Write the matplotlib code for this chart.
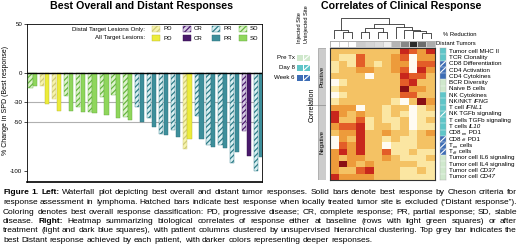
import numpy as np
import matplotlib
matplotlib.use('Agg')
import matplotlib.pyplot as plt
from matplotlib.patches import Rectangle
from matplotlib.colors import LinearSegmentedColormap

plt.rcParams['font.family'] = 'Liberation Sans'
plt.rcParams['hatch.linewidth'] = 0.9

# ---- waterfall data (% change in SPD), one pair per patient
response = ['SD', 'PD', 'PD', 'SD', 'SD', 'SD', 'SD', 'SD', 'SD', 'PR',
            'PR', 'PR', 'PR', 'PD', 'PR', 'PR', 'PR', 'PR', 'CR', 'PR']
distal = [-15, -13.5, -27, -24, -35, -39.5, -25, -22.5, -45, -35,
          -46, -62.5, -58, -77.5, -44.5, -74, -74, -92, -59, -100]
overall = [-13.5, -32, -38.5, -38.5, -39.5, -40.5, -43.5, -46, -48.5, -50,
           -55, -63.5, -65, -67.5, -68, -75.5, -76.5, -81, -85, -86]
yticks = [50, 0, -30, -50, -100]

# ---- heatmap data
# row labels as pieces: n = normal, i = italic, s = subscript
row_labels = [
    [('Tumor cell MHC II', 'n')], [('TCR Clonality', 'n')], [('CD8 Differentiation', 'n')],
    [('CD4 Activation', 'n')], [('CD4 Cytokines', 'n')], [('BCR Diversity', 'n')],
    [('Naive B cells', 'n')], [('NK Cytokines', 'n')],
    [('NK/NKT ', 'n'), ('IFNG', 'i')], [('T cell ', 'n'), ('IFNL1', 'i')],
    [('NK TGFb signaling', 'n')], [('T cells TGFb signaling', 'n')],
    [('T cells ', 'n'), ('IL10', 'i')],
    [('CD8', 'n'), ('em', 's'), (' PD1', 'n')], [('CD8', 'n'), ('eff', 's'), (' PD1', 'n')],
    [('T', 'n'), ('em', 's'), (' cells', 'n')], [('T', 'n'), ('eff', 's'), (' cells', 'n')],
    [('Tumor cell IL6 signaling', 'n')], [('Tumor cell IL4 signaling', 'n')],
    [('Tumor cell ', 'n'), ('CD37', 'i')], [('Tumor cell ', 'n'), ('CD47', 'i')],
]
row_time = ['d8', 'd8', 'w6', 'w6', 'w6', 'pre', 'pre', 'd8', 'd8', 'd8', 'd8',
            'd8', 'd8', 'd8', 'w6', 'w6', 'w6', 'pre', 'pre', 'pre', 'pre']
row_uninj = [0, 0, 1, 1, 0, 0, 0, 0, 0, 0, 1, 0, 0, 0, 1, 1, 1, 0, 0, 0, 0]
n_positive = 9
heat = np.array([
    [2, 2, 2, 2, 2, 2, 2, 2, 5, 4, 3, 5],
    [2, 1, 1, 4, 2, 2, 2, 3, 4, 0, 3, 3],
    [1, 2, 1, 4, 2, 1, 2, 3, 3, 0, 4, 4],
    [1, 2, 2, 3, 3, 2, 2, 3, 4, 0, 5, 3],
    [2, 2, 2, 2, 0, 2, 2, 2, 5, 4, 4, 2],
    [0, 1, 2, 2, 2, 2, 2, 2, 4, 5, 2, 2],
    [1, 2, 2, 2, 2, 2, 2, 2, 6, 3, 3, 2],
    [0, 1, 2, 2, 2, 2, 2, 2, 4, 4, 2, 2],
    [1, 2, 2, 2, 2, 2, 2, 1, 0, 2, 6, 3],
    [3, 3, 3, 0, 2, 2, 1, 2, 2, 0, 1, 2],
    [5, 3, 2, 3, 2, 2, 1, 2, 1, 0, 1, 1],
    [5, 2, 2, 4, 1, 2, 1, 1, 2, 0, 1, 2],
    [3, 4, 4, 5, 1, 2, 2, 1, 2, 0, 1, 1],
    [2, 3, 3, 5, 2, 2, 3, 2, 2, 1, 2, 3],
    [0, 3, 2, 5, 2, 2, 1, 2, 1, 1, 2, 2],
    [0, 4, 3, 5, 2, 2, 0, 1, 1, 1, 2, 2],
    [3, 5, 3, 5, 2, 2, 4, 1, 1, 2, 1, 1],
    [3, 2, 3, 3, 2, 2, 3, 2, 1, 1, 1, 2],
    [3, 6, 3, 2, 3, 2, 2, 2, 2, 2, 1, 1],
    [3, 2, 2, 4, 5, 2, 2, 2, 1, 1, 2, 1],
    [5, 3, 3, 3, 3, 2, 2, 2, 1, 1, 1, 1],
])
reduction = [0, 0, 0, 0.32, 0.28, 0.25, 0.14, 0.42, 0.58, 0.9, 0.68, 0.45]
# dendrogram merges: (left node, right node, height); leaves are 0..11
merges = [(1, 2, 0.35), (0, 12, 0.44), (3, 4, 0.35), (5, 6, 0.35), (14, 15, 0.54),
          (10, 11, 0.3), (9, 17, 0.38), (8, 18, 0.46), (7, 19, 0.56), (16, 20, 0.72),
          (13, 21, 1.0)]

caption = [
    [("Figure 1. Left:", True), ("Waterfall plot depicting best overall and distant tumor responses. Solid bars denote best response by Cheson criteria for", False)],
    [("response assessment in lymphoma. Hatched bars indicate best response when locally treated tumor site is excluded (\u201cDistant response\u201d).", False)],
    [("Coloring denotes best overall response classification: PD, progressive disease; CR, complete response; PR, partial response; SD, stable", False)],
    [("disease.", False), ("Right:", True), ("Heatmap summarizing biological correlates of response either at baseline (rows with light green squares) or after", False)],
    [("treatment (light and dark blue squares), with patient columns clustered by unsupervised hierarchical clustering. Top grey bar indicates the", False)],
    [("best Distant response achieved by each patient, with darker colors representing deeper responses.", False)],
]

solid = {'PD': '#ecec3a', 'CR': '#4a1a6c', 'PR': '#3e8f9b', 'SD': '#8fd65c'}
solid_edge = {'PD': '#b5b232', 'CR': '#2e0d47', 'PR': '#2b6f7a', 'SD': '#62a83c'}
light = {'PD': '#f7f4ad', 'CR': '#d8cce6', 'PR': '#d9f0f2', 'SD': '#def3cc'}
light_edge = {'PD': '#cfc978', 'CR': '#4a1a6c', 'PR': '#2f7c88', 'SD': '#66b640'}
time_col = {'pre': '#cfe8cc', 'd8': '#5fc5c8', 'w6': '#3d6db5'}

W, H = 520, 252
fig = plt.figure(figsize=(W / 100, H / 100), dpi=100)
renderer = fig.canvas.get_renderer()


def px_axes(x0, y0, x1, y1):
    return fig.add_axes([x0 / W, 1 - y1 / H, (x1 - x0) / W, (y1 - y0) / H])


def fx(x):
    return x / W


def fy(y):
    return 1 - y / H


def fig_rect(x0, y0, w, h, **kw):
    r = Rectangle((fx(x0), fy(y0 + h)), w / W, h / H, transform=fig.transFigure, **kw)
    fig.add_artist(r)
    return r


# ================= left: waterfall =================
ax = px_axes(27, 24, 262, 182)
x = np.arange(len(overall))
for i in x:
    c = response[i]
    ax.bar(i - 0.2, distal[i], 0.36, facecolor=light[c], edgecolor=light_edge[c],
           hatch='//////', lw=0.3, zorder=3)
    ax.bar(i + 0.2, overall[i], 0.36, facecolor=solid[c], edgecolor=solid_edge[c],
           lw=0.3, zorder=3)
for g in [-30, -50]:
    ax.axhline(g, color='#b0b0b0', lw=0.8, zorder=1)
ax.axhline(0, color='black', lw=1.0, zorder=4)
ax.set_xlim(-0.49, 19.3)
ax.set_ylim(-111.5, 50)
ax.set_xticks([])
ax.set_yticks(yticks)
ax.set_yticklabels([str(t) for t in yticks], fontsize=4.4)
ax.tick_params(axis='y', length=2, width=0.5, pad=1.5)
for s in ax.spines.values():
    s.set_linewidth(0.6)
ax.spines['bottom'].set_linewidth(1.2)
fig.text(fx(6), fy(100), '% Change in SPD (Best response)', fontsize=5, rotation=90,
         ha='center', va='center')
fig.text(fx(142), fy(6), 'Best Overall and Distant Responses', fontsize=7.7,
         fontweight='bold', ha='center', va='center')

# legend
fig.text(fx(145), fy(29), 'Distal Target Lesions Only:', fontsize=4.4, ha='right', va='center')
fig.text(fx(145), fy(38), 'All Target Lesions:', fontsize=4.4, ha='right', va='center')
leg_x = {'PD': 152, 'CR': 183, 'PR': 212, 'SD': 239}
for c, lx in leg_x.items():
    fig_rect(lx, 26.5, 8, 5, facecolor=light[c], edgecolor=light_edge[c], hatch='//////', lw=0.3)
    fig_rect(lx, 35.5, 8, 5, facecolor=solid[c], edgecolor=solid_edge[c], lw=0.3)
    fig.text(fx(lx + 11), fy(29), c, fontsize=4.4, va='center')
    fig.text(fx(lx + 11), fy(38), c, fontsize=4.4, va='center')

# ================= right: heatmap =================
fig.text(fx(401), fy(6), 'Correlates of Clinical Response', fontsize=7.7,
         fontweight='bold', ha='center', va='center')

cmap = LinearSegmentedColormap.from_list(
    'heat', ['#fffbf2', '#fbe6a2', '#f4c264', '#ee9c3c', '#e35d28', '#c9281d', '#8a0f14'])
axh = px_axes(330, 48, 435, 180)
axh.imshow(heat, cmap=cmap, vmin=0, vmax=6, aspect='auto', interpolation='nearest')
axh.set_xticks([])
axh.set_yticks([])
for s in axh.spines.values():
    s.set_linewidth(0.8)
    s.set_color('#333333')

# grey response bar
axg = px_axes(330, 41, 435, 47)
axg.pcolormesh(np.array([reduction]), cmap='Greys', vmin=0, vmax=1.05,
               edgecolors='#cfcfcf', linewidth=0.4)
axg.set_xticks([])
axg.set_yticks([])
for s in axg.spines.values():
    s.set_linewidth(0.4)
    s.set_color('#999999')
fig.text(fx(443), fy(35), '% Reduction', fontsize=4.2, va='center')
fig.text(fx(436.5), fy(43.5), 'Distant Tumors', fontsize=4.2, va='center')

# dendrogram
axd = px_axes(330, 18, 435, 39)
pos = {i: (float(i), 0.0) for i in range(len(reduction))}
for k, (a, b, h) in enumerate(merges):
    xa, ha = pos[a]
    xb, hb = pos[b]
    axd.plot([xa, xa, xb, xb], [ha, h, h, hb], color='#333333', lw=0.6)
    pos[len(reduction) + k] = ((xa + xb) / 2, h)
axd.set_xlim(-0.5, len(reduction) - 0.5)
axd.set_ylim(0, 1.02)
axd.axis('off')

# row annotation squares
axa = px_axes(440, 48, 446, 180)
rgb = np.array([matplotlib.colors.to_rgb(time_col[t]) for t in row_time])[:, None, :]
axa.imshow(rgb, aspect='auto', interpolation='nearest')
for i, u in enumerate(row_uninj):
    if u:
        axa.plot([-0.5, 0.5], [i + 0.45, i - 0.45], color='white', lw=0.8)
for i in range(len(row_time) - 1):
    axa.axhline(i + 0.5, color='white', lw=0.3)
axa.set_xlim(-0.5, 0.5)
axa.set_xticks([])
axa.set_yticks([])
for s in axa.spines.values():
    s.set_linewidth(0.3)
    s.set_color('#aaaaaa')

# row labels, drawn piece by piece (italic genes, small subscripts)
row_h = 132 / len(row_labels)
lab_fs = 4.5
for i, pieces in enumerate(row_labels):
    xc = 449
    yc = 48 + row_h * (i + 0.5)
    for txt, style in pieces:
        if style == 's':
            t = fig.text(fx(xc), fy(yc + 1.3), txt, fontsize=lab_fs * 0.62, va='center')
        else:
            t = fig.text(fx(xc), fy(yc), txt, fontsize=lab_fs, va='center',
                         fontstyle='italic' if style == 'i' else 'normal')
        xc += t.get_window_extent(renderer).width

# positive / negative sidebar
axs = px_axes(318, 48, 326, 180)
axs.bar(0, n_positive, bottom=0, width=1, color='#cccccc', edgecolor='#888888', lw=0.4)
axs.bar(0, len(row_labels) - n_positive, bottom=n_positive, width=1, color='#cccccc',
        edgecolor='#888888', lw=0.4)
axs.set_ylim(len(row_labels), 0)
axs.set_xlim(-0.5, 0.5)
axs.axis('off')
axs.text(0, n_positive / 2, 'Positive', rotation=90, fontsize=4.3, ha='center', va='center')
axs.text(0, (n_positive + len(row_labels)) / 2, 'Negative', rotation=90, fontsize=4.3,
         ha='center', va='center')
fig.text(fx(312), fy(105), 'Correlation', rotation=90, fontsize=5, ha='center', va='center')
fig.add_artist(plt.Line2D([fx(306), fx(318)], [fy(105), fy(105)], transform=fig.transFigure,
                          color='#888888', lw=0.4))

# time point legend
fig.text(fx(299.5), fy(43), 'Injected Site', rotation=90, fontsize=4.1, ha='center', va='bottom')
fig.text(fx(306.5), fy(43), 'Uninjected Site', rotation=90, fontsize=4.1, ha='center', va='bottom')
for k, (t, lab) in enumerate([('pre', 'Pre Tx'), ('d8', 'Day 8'), ('w6', 'Week 6')]):
    yy = 55 + 10 * k
    fig_rect(296.5, yy, 6, 5.5, facecolor=time_col[t], lw=0)
    fig_rect(303.5, yy, 6, 5.5, facecolor=time_col[t], lw=0)
    fig.add_artist(plt.Line2D([fx(303.5), fx(309.5)], [fy(yy + 5.5), fy(yy)],
                              transform=fig.transFigure, color='white', lw=0.8))
    fig.text(fx(295), fy(yy + 2.75), lab, fontsize=4.4, ha='right', va='center')

# ================= caption (justified) =================
x_left, x_right = 3, 517


def line_words(line):
    out = []
    for seg, bold in line:
        for w in seg.split():
            out.append((w, bold))
    return out


def measure(words, fs):
    ts = [fig.text(0, 0, w, fontsize=fs, fontweight='bold' if b else 'normal') for w, b in words]
    ws = [t.get_window_extent(renderer).width for t in ts]
    for t in ts:
        t.remove()
    return ws


# pick the font size so the widest line fits with normal word spacing
probe = 10.0
space_frac = 0.278
natural = []
for line in caption[:-1]:
    wds = line_words(line)
    natural.append(sum(measure(wds, probe)) + (len(wds) - 1) * probe * 100 / 72 * space_frac)
cap_fs = probe * (x_right - x_left) / max(natural) * 0.99

line_y = [193, 202.5, 212, 221.5, 231, 240.5]
for k, line in enumerate(caption):
    words = line_words(line)
    widths = measure(words, cap_fs)
    if k == len(caption) - 1:
        gap = cap_fs * 100 / 72 * space_frac
    else:
        gap = (x_right - x_left - sum(widths)) / (len(words) - 1)
    xc = x_left
    for (w, b), wd in zip(words, widths):
        fig.text(fx(xc), fy(line_y[k]), w, fontsize=cap_fs,
                 fontweight='bold' if b else 'normal', va='center')
        xc += wd + gap

fig.savefig('out.png', dpi=100)
